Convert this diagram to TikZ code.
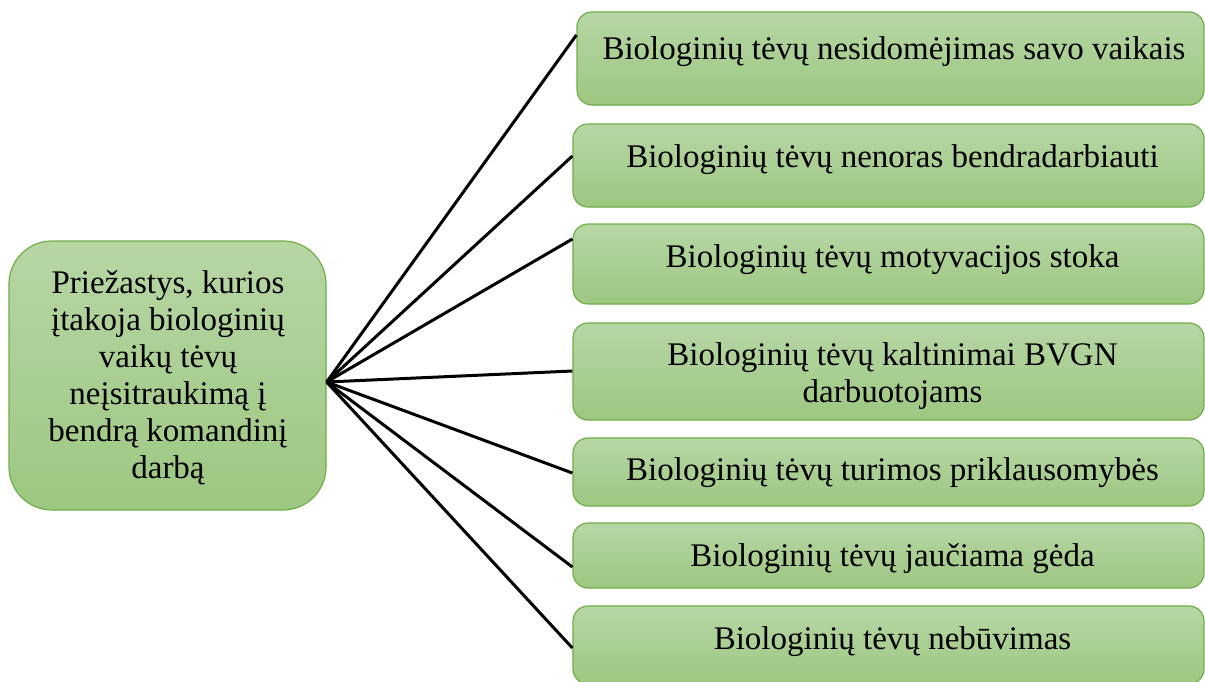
\documentclass[tikz,border=0pt]{standalone}
\usepackage{fontspec}
\setmainfont{Liberation Serif}
\definecolor{gtop}{RGB}{183,214,165}
\definecolor{gbot}{RGB}{157,199,129}
\definecolor{gline}{RGB}{112,173,71}
\begin{document}
\begin{tikzpicture}[x=1pt,y=-1pt,
  box/.style={draw=gline, line width=1.2pt, top color=gtop, bottom color=gbot,
              rounded corners=15pt, inner sep=0pt},
  bigbox/.style={box, rounded corners=43pt},
  txt/.style={font=\fontsize{33}{37}\selectfont, anchor=base, inner sep=0pt, align=center},
  conn/.style={line width=3pt, black}]
\useasboundingbox (0,0) rectangle (1205,681);

\node[bigbox, minimum width=317pt, minimum height=269pt] (L) at (167.5,375.5) {};
\node[box, minimum width=627pt, minimum height=93pt] (b1) at (890.5,58.5) {};
\node[box, minimum width=631pt, minimum height=83pt] (b2) at (888.5,165.5) {};
\node[box, minimum width=631pt, minimum height=80pt] (b3) at (888.5,264) {};
\node[box, minimum width=631pt, minimum height=97pt] (b4) at (888.5,371.5) {};
\node[box, minimum width=631pt, minimum height=68pt] (b5) at (888.5,472) {};
\node[box, minimum width=631pt, minimum height=65pt] (b6) at (888.5,555.5) {};
\node[box, minimum width=631pt, minimum height=78pt] (b7) at (888.5,645) {};

\node[txt] (tL) at (168,478) {Priežastys, kurios\\įtakoja biologinių\\vaikų tėvų\\neįsitraukimą į\\bendrą komandinį\\darbą};
\node[txt] (t1) at (894,59) {Biologinių tėvų nesidomėjimas savo vaikais};
\node[txt] (t2) at (892.5,167) {Biologinių tėvų nenoras bendradarbiauti};
\node[txt] (t3) at (892.5,267) {Biologinių tėvų motyvacijos stoka};
\node[txt] (t4) at (892.5,402) {Biologinių tėvų kaltinimai BVGN\\darbuotojams};
\node[txt] (t5) at (892.5,480) {Biologinių tėvų turimos priklausomybės};
\node[txt] (t6) at (892.5,566) {Biologinių tėvų jaučiama gėda};
\node[txt] (t7) at (892.5,649) {Biologinių tėvų nebūvimas};

\coordinate (o) at ([yshift=-6.5pt]L.east);
\draw[conn] (o) -- ([yshift=23.5pt]b1.west);
\draw[conn] (o) -- ([yshift=9.5pt]b2.west);
\draw[conn] (o) -- ([yshift=25pt]b3.west);
\draw[conn] (o) -- ([yshift=0.5pt]b4.west);
\draw[conn] (o) -- ([yshift=-1pt]b5.west);
\draw[conn] (o) -- ([yshift=-11.5pt]b6.west);
\draw[conn] (o) -- ([yshift=-3pt]b7.west);
\end{tikzpicture}
\end{document}
